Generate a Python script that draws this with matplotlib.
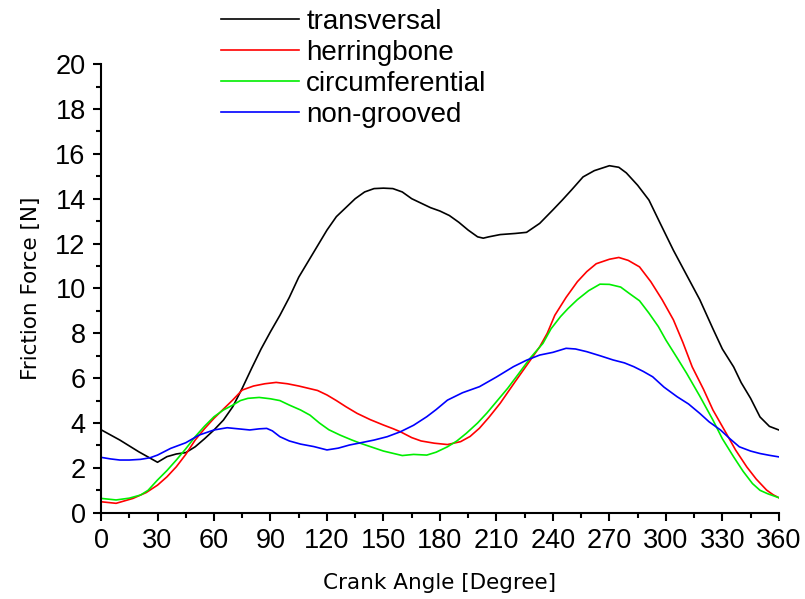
import matplotlib
matplotlib.use('Agg')
import matplotlib.pyplot as plt
import numpy as np

#------------------------------------------------------------------------------
# friction force [N] vs crank angle [deg]
ang_tr = [0, 10, 20, 30, 35, 40, 45, 50, 55, 60, 65, 70, 75, 80, 85, 90, 95, 100, 105,
          110, 115, 120, 125, 130, 135, 140, 145, 150, 155, 160, 165, 170, 175, 180,
          185, 190, 195, 200, 203, 206, 212, 220, 226, 233, 240, 245, 250, 256, 262,
          270, 275, 279, 285, 291, 297, 304, 311, 318, 325, 330, 336, 340, 345, 350,
          355, 360]
transversal = [3.70, 3.24, 2.72, 2.25, 2.50, 2.62, 2.68, 2.94, 3.30, 3.69, 4.13, 4.73,
               5.55, 6.44, 7.30, 8.07, 8.80, 9.60, 10.50, 11.20, 11.90, 12.60, 13.20,
               13.60, 14.00, 14.30, 14.45, 14.47, 14.45, 14.30, 14.00, 13.80, 13.60,
               13.45, 13.25, 12.95, 12.60, 12.30, 12.24, 12.30, 12.40, 12.45, 12.50,
               12.90, 13.50, 13.94, 14.40, 14.97, 15.25, 15.47, 15.40, 15.15, 14.60,
               13.94, 12.90, 11.70, 10.60, 9.50, 8.20, 7.30, 6.50, 5.80, 5.10, 4.27,
               3.85, 3.69]

ang_hb = [0, 8, 17, 24, 30, 35, 40, 45, 50, 55, 60, 65, 70, 75, 81, 87, 93, 99, 105,
          110, 115, 120, 125, 130, 136, 143, 150, 155, 159, 165, 170, 177, 184, 191,
          196, 201, 206, 212, 220, 228, 233, 237, 241, 247, 253, 258, 263, 270, 275,
          280, 286, 292, 298, 304, 309, 314, 320, 325, 332, 337, 343, 348, 353.5, 357,
          360]
herringbone = [0.49, 0.42, 0.64, 0.90, 1.23, 1.60, 2.05, 2.60, 3.24, 3.75, 4.21, 4.62,
               5.03, 5.47, 5.65, 5.75, 5.81, 5.75, 5.65, 5.55, 5.45, 5.25, 5.00, 4.73,
               4.43, 4.15, 3.91, 3.75, 3.61, 3.35, 3.20, 3.10, 3.04, 3.17, 3.40, 3.77,
               4.25, 4.88, 5.85, 6.80, 7.40, 8.00, 8.80, 9.60, 10.30, 10.75, 11.10,
               11.30, 11.38, 11.25, 10.96, 10.30, 9.50, 8.60, 7.60, 6.50, 5.50, 4.58,
               3.55, 2.80, 2.04, 1.50, 1.01, 0.80, 0.67]

ang_cf = [0, 8, 15, 21, 25, 30, 35, 40, 45, 50, 55, 60, 65, 70, 74, 78, 84, 90, 95,
          100, 106, 111, 116, 121, 127, 133, 138, 144, 150, 155, 160, 166, 173, 178,
          184, 189, 194, 200, 205, 210, 216, 222, 228, 234.7, 239, 244, 248, 253, 259,
          265, 270, 276, 281, 286, 291, 296, 300, 306, 311, 318, 325, 330, 336, 341,
          346, 350, 354, 360]
circumferential = [0.64, 0.57, 0.65, 0.79, 1.00, 1.46, 1.88, 2.35, 2.85, 3.39, 3.86,
                   4.28, 4.58, 4.80, 5.00, 5.10, 5.14, 5.08, 5.00, 4.80, 4.58, 4.35,
                   4.00, 3.70, 3.46, 3.25, 3.09, 2.92, 2.75, 2.65, 2.55, 2.60, 2.57,
                   2.70, 2.94, 3.20, 3.54, 4.00, 4.45, 4.95, 5.55, 6.22, 6.90, 7.55,
                   8.20, 8.74, 9.10, 9.50, 9.90, 10.19, 10.18, 10.06, 9.75, 9.45, 8.90,
                   8.30, 7.70, 6.90, 6.22, 5.20, 4.13, 3.30, 2.49, 1.85, 1.30, 1.00,
                   0.85, 0.67]

ang_ng = [0, 5, 10, 15, 21, 26, 30, 37, 45, 52, 60, 67, 73, 79, 84, 88, 91, 95, 100,
          106, 113, 120, 126, 132, 138, 145, 152, 159, 166, 173, 178, 184, 192, 201,
          210, 219, 226, 233, 240, 247, 252, 258, 265, 272, 278, 283, 288, 293, 299,
          306, 312, 318, 323, 329, 334, 339, 345, 350, 355, 360]
non_grooved = [2.47, 2.40, 2.35, 2.35, 2.38, 2.45, 2.57, 2.87, 3.12, 3.46, 3.69, 3.79,
               3.74, 3.69, 3.74, 3.76, 3.65, 3.39, 3.20, 3.06, 2.95, 2.80, 2.88, 3.02,
               3.12, 3.24, 3.39, 3.61, 3.90, 4.28, 4.60, 5.02, 5.35, 5.62, 6.05, 6.51,
               6.80, 7.03, 7.15, 7.33, 7.30, 7.18, 7.00, 6.81, 6.68, 6.51, 6.30, 6.06,
               5.60, 5.17, 4.85, 4.43, 4.05, 3.69, 3.30, 2.94, 2.75, 2.64, 2.56, 2.49]

#------------------------------------------------------------------------------
fig = plt.figure(figsize=(8.05, 5.99), dpi=100)
ax = fig.add_axes([0.1255, 0.144, 0.842, 0.749])

ax.plot(ang_tr, transversal, color='black', linewidth=1.2, label='transversal')
ax.plot(ang_hb, herringbone, color='#ff0000', linewidth=1.2, label='herringbone')
ax.plot(ang_cf, circumferential, color='#00ee00', linewidth=1.2, label='circumferential')
ax.plot(ang_ng, non_grooved, color='#0000ff', linewidth=1.2, label='non-grooved')

#--------------axis limits and ticks-------------------------------------------
ax.set_xlim(0, 360)
ax.set_ylim(0, 20)
ax.set_xticks(np.arange(0, 361, 30))
ax.set_xticks(np.arange(15, 360, 30), minor=True)
ax.set_yticks(np.arange(0, 21, 2))
ax.set_yticks(np.arange(1, 20, 2), minor=True)

for s in ['top', 'right']:
    ax.spines[s].set_visible(False)
for s in ['left', 'bottom']:
    ax.spines[s].set_linewidth(1.5)

ax.tick_params(which='major', direction='out', length=6, width=1.5, pad=5)
ax.tick_params(which='minor', direction='out', length=3.5, width=1.5)
for lab in ax.get_xticklabels() + ax.get_yticklabels():
    lab.set_fontfamily('Liberation Sans')
    lab.set_fontsize(19.5)

#--------------axis labels-----------------------------------------------------
ax.set_xlabel('Crank Angle [Degree]', fontsize=15.5, fontfamily='DejaVu Sans', labelpad=14)
ax.set_ylabel('Friction Force [N]', fontsize=15.5, fontfamily='DejaVu Sans', labelpad=10)

#--------------legend at the top, no frame-------------------------------------
leg = fig.legend(loc='upper left', bbox_to_anchor=(0.244, 1.027), frameon=False,
                 prop={'family': 'Liberation Sans', 'size': 20},
                 handlelength=2.8, handletextpad=0.25, labelspacing=0.18)

plt.savefig('out.png', dpi=100)
